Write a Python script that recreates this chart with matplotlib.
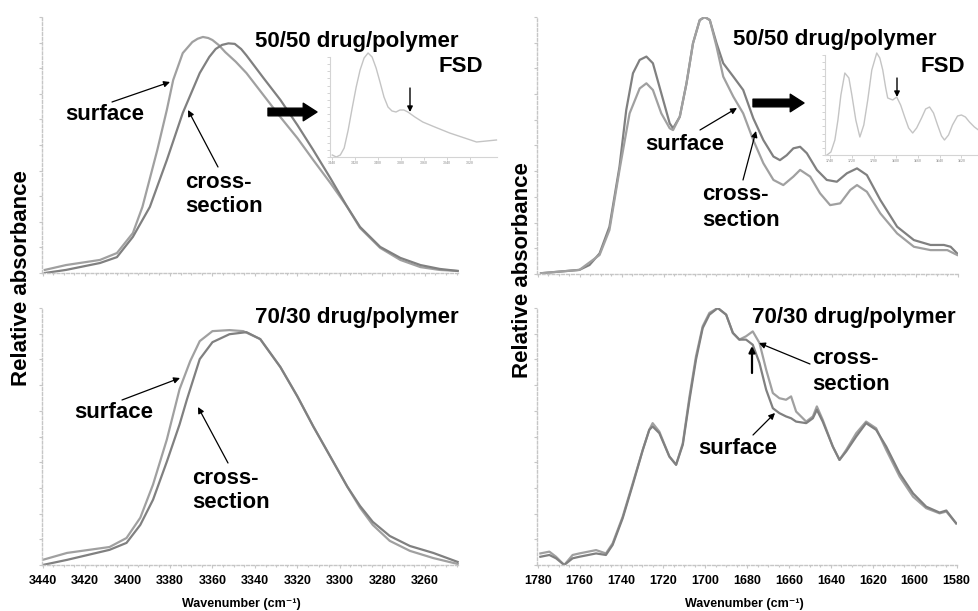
import matplotlib
matplotlib.use('Agg')
import matplotlib.pyplot as plt
import numpy as np

plt.rcParams['font.family'] = ['Liberation Sans', 'DejaVu Sans']
plt.rcParams['font.weight'] = 'bold'

# ---- data ----
# O-H / N-H stretch region, 50/50 drug/polymer
tl_surf_wn = [3439, 3429, 3413, 3405, 3397.5, 3393, 3386, 3381.5, 3378.5, 3374, 3369.5, 3367, 3364.5, 3362,
              3360, 3357, 3354, 3349, 3344, 3336, 3328, 3320, 3312.5, 3304.5, 3296.5, 3290.5, 3281,
              3271.5, 3262, 3253, 3244.5]
tl_surf_abs = [0.012, 0.031, 0.051, 0.078, 0.156, 0.258, 0.480, 0.637, 0.754, 0.859, 0.902, 0.915, 0.922, 0.918,
               0.910, 0.890, 0.863, 0.825, 0.781, 0.695, 0.609, 0.527, 0.441, 0.352, 0.258, 0.176, 0.098,
               0.051, 0.023, 0.012, 0.008]
tl_cross_wn = [3439, 3429, 3413, 3405, 3397.5, 3389.5, 3381.5, 3374, 3366, 3361.5, 3358.5, 3355.5, 3352.5,
               3349.5, 3346.5, 3344, 3336, 3328, 3320, 3312.5, 3304.5, 3296.5, 3290.5, 3281, 3271.5, 3262,
               3253, 3244.5]
tl_cross_abs = [0.0, 0.012, 0.039, 0.062, 0.141, 0.258, 0.441, 0.625, 0.781, 0.844, 0.875, 0.891, 0.897,
                0.895, 0.875, 0.850, 0.762, 0.676, 0.578, 0.480, 0.371, 0.258, 0.180, 0.102, 0.059, 0.031,
                0.016, 0.008]

# 70/30 drug/polymer
bl_surf_wn = [3440, 3428.5, 3408.5, 3400.5, 3394, 3388, 3381.5, 3375.5, 3370.5, 3366, 3360, 3352, 3345.5,
              3337.5, 3328, 3320, 3312.5, 3304.5, 3296.5, 3290.5, 3284.5, 3276.5, 3267, 3256, 3244.5]
bl_surf_abs = [0.020, 0.047, 0.070, 0.105, 0.184, 0.313, 0.488, 0.684, 0.793, 0.871, 0.910, 0.914, 0.910,
               0.879, 0.770, 0.656, 0.539, 0.422, 0.305, 0.223, 0.156, 0.094, 0.055, 0.027, 0.004]
bl_cross_wn = [3440, 3428.5, 3408.5, 3400.5, 3394, 3388, 3381.5, 3375.5, 3372, 3366, 3360, 3352, 3344,
               3337.5, 3328, 3320, 3312.5, 3304.5, 3296.5, 3290.5, 3284.5, 3276.5, 3267, 3256, 3244.5]
bl_cross_abs = [0.0, 0.020, 0.059, 0.086, 0.156, 0.254, 0.402, 0.547, 0.645, 0.801, 0.867, 0.898, 0.906,
                0.879, 0.770, 0.656, 0.539, 0.422, 0.305, 0.230, 0.168, 0.113, 0.074, 0.047, 0.012]

# carbonyl region, 50/50
tr_surf_wn = [1778.4, 1760.1, 1755.3, 1750.5, 1745.8, 1741.0, 1737.8, 1734.6, 1731.4, 1728.2,
              1725.1, 1721.1, 1717.1, 1715.5, 1712.3, 1709.1, 1706.0, 1702.8, 1700.4, 1698.0,
              1694.8, 1691.6, 1686.8, 1682.1, 1677.3, 1672.5, 1667.7, 1664.6, 1661.4, 1658.2,
              1655.0, 1651.8, 1647.0, 1642.3, 1637.5, 1632.7, 1627.9, 1623.2, 1616.8, 1608.8,
              1600.8, 1592.9, 1586.5, 1583.3, 1580.2]
tr_surf_abs = [0.003, 0.016, 0.035, 0.080, 0.184, 0.418, 0.638, 0.781, 0.833, 0.846,
               0.820, 0.703, 0.586, 0.567, 0.612, 0.742, 0.898, 0.988, 1.0, 0.988,
               0.898, 0.820, 0.768, 0.716, 0.606, 0.521, 0.457, 0.443, 0.462, 0.489,
               0.495, 0.470, 0.405, 0.366, 0.359, 0.392, 0.411, 0.385, 0.288, 0.184,
               0.132, 0.113, 0.113, 0.106, 0.080]
tr_cross_wn = [1778.4, 1760.1, 1750.5, 1745.8, 1741.0, 1736.2, 1731.4, 1728.2, 1725.1, 1721.1,
               1717.1, 1715.5, 1712.3, 1709.1, 1706.0, 1702.8, 1700.4, 1698.0, 1694.8, 1691.6,
               1686.8, 1682.1, 1677.3, 1672.5, 1667.7, 1663.0, 1658.2, 1655.0, 1650.2, 1645.5,
               1640.7, 1635.9, 1631.1, 1627.9, 1623.2, 1616.8, 1608.8, 1600.8, 1592.9, 1584.9, 1580.2]
tr_cross_abs = [0.003, 0.016, 0.074, 0.171, 0.405, 0.625, 0.722, 0.742, 0.716, 0.625,
                0.567, 0.560, 0.612, 0.742, 0.898, 0.988, 1.0, 0.988, 0.885, 0.768,
                0.690, 0.625, 0.521, 0.431, 0.366, 0.346, 0.379, 0.405, 0.379, 0.314,
                0.268, 0.275, 0.327, 0.346, 0.320, 0.236, 0.158, 0.106, 0.093, 0.093, 0.074]

# carbonyl region, 70/30
br_wn = [1778.7, 1774.4, 1771.2, 1767.3, 1763.3, 1760.1, 1752.1, 1747.4, 1744.2, 1739.4,
         1734.6, 1729.8, 1726.7, 1725.1, 1721.9, 1717.1, 1713.9, 1710.7, 1707.5, 1704.4,
         1701.2, 1698.0, 1694.0, 1690.0, 1686.8, 1683.7, 1680.5, 1677.3, 1674.1, 1670.9,
         1667.7, 1664.6, 1661.4, 1659.0, 1656.6, 1651.8, 1648.6, 1646.7, 1643.9, 1639.1,
         1635.9, 1632.7, 1627.9, 1623.2, 1618.4, 1613.6, 1607.2, 1600.8, 1594.5, 1588.1,
         1584.9, 1580.2]
br_cross_abs = [0.045, 0.052, 0.032, 0.0, 0.039, 0.045, 0.058, 0.045, 0.084, 0.188,
                0.318, 0.448, 0.526, 0.552, 0.519, 0.422, 0.390, 0.474, 0.656, 0.812,
                0.929, 0.981, 1.0, 0.974, 0.903, 0.877, 0.890, 0.909, 0.864, 0.760,
                0.669, 0.649, 0.643, 0.656, 0.597, 0.558, 0.578, 0.617, 0.565, 0.461,
                0.409, 0.448, 0.513, 0.558, 0.532, 0.448, 0.344, 0.266, 0.221, 0.201,
                0.208, 0.162]
br_surf_abs = [0.032, 0.039, 0.026, 0.0, 0.026, 0.032, 0.045, 0.039, 0.078, 0.182,
               0.312, 0.448, 0.526, 0.539, 0.513, 0.422, 0.390, 0.468, 0.643, 0.799,
               0.922, 0.974, 1.0, 0.974, 0.903, 0.877, 0.877, 0.857, 0.786, 0.682,
               0.610, 0.591, 0.578, 0.571, 0.558, 0.552, 0.571, 0.604, 0.558, 0.461,
               0.409, 0.442, 0.500, 0.552, 0.526, 0.461, 0.357, 0.279, 0.227, 0.204,
               0.212, 0.162]

# FSD insets
tl_fsd_wn = [3440, 3436.5, 3433.0, 3429.6, 3426.1, 3422.6, 3419.1, 3415.7, 3412.2, 3408.7,
             3405.2, 3401.7, 3398.3, 3394.8, 3391.3, 3387.8, 3384.3, 3380.9, 3377.4, 3373.9,
             3367.8, 3360.9, 3350.4, 3337.4, 3324.3, 3313.9, 3305.2, 3296.5]
tl_fsd = [0.02, 0.0, 0.02, 0.09, 0.27, 0.49, 0.70, 0.87, 0.99, 1.04,
          1.0, 0.89, 0.75, 0.60, 0.50, 0.46, 0.45, 0.47, 0.47, 0.45,
          0.40, 0.35, 0.30, 0.24, 0.19, 0.15, 0.16, 0.17]
tr_fsd_wn = [1742.7, 1739.1, 1735.5, 1732.7, 1730.0, 1726.4, 1722.7, 1720.0, 1716.4, 1712.7,
             1709.1, 1705.5, 1701.8, 1697.3, 1694.5, 1691.8, 1689.1, 1687.3, 1682.7, 1679.1,
             1675.5, 1671.8, 1668.2, 1664.5, 1660.9, 1656.4, 1652.7, 1649.1, 1645.5, 1641.8,
             1638.2, 1635.5, 1631.8, 1628.2, 1623.6, 1620.0, 1616.4, 1612.7, 1608.2, 1604.5]
tr_fsd = [0.0, 0.03, 0.15, 0.35, 0.60, 0.82, 0.77, 0.60, 0.35, 0.18,
          0.30, 0.55, 0.85, 1.02, 0.97, 0.85, 0.67, 0.57, 0.55, 0.58,
          0.50, 0.38, 0.27, 0.22, 0.27, 0.37, 0.46, 0.48, 0.42, 0.30,
          0.19, 0.15, 0.20, 0.30, 0.39, 0.40, 0.38, 0.33, 0.28, 0.25]

oh_ticks = [3440, 3420, 3400, 3380, 3360, 3340, 3320, 3300, 3280, 3260]
co_ticks = [1780, 1760, 1740, 1720, 1700, 1680, 1660, 1640, 1620, 1600, 1580]
tl_fsd_ticks = [3440, 3420, 3400, 3380, 3360, 3340, 3320]
tr_fsd_ticks = [1740, 1720, 1700, 1680, 1660, 1640, 1620]

W, H = 979, 611
c_surf = '#a0a0a0'
c_cross = '#808080'
axc = '#c6c6c6'


def fp(x, y):
    # pixel (top-left origin) -> figure fraction
    return (x / W, 1 - y / H)


def box(x0, y0, x1, y1):
    return [x0 / W, 1 - y1 / H, (x1 - x0) / W, (y1 - y0) / H]


def style(ax, xlim, ticks, xlab_x=None):
    ax.set_facecolor('none')
    for s in ['top', 'right']:
        ax.spines[s].set_visible(False)
    for s in ['left', 'bottom']:
        ax.spines[s].set_color(axc)
        ax.spines[s].set_linestyle((0, (2, 1.5)))
        ax.spines[s].set_linewidth(1.0)
    lo, hi = min(xlim), max(xlim)
    minor = [v for v in np.arange(ticks[-1] - 20, ticks[0] + 1, 5) if lo <= v <= hi]
    ax.set_xticks(ticks)
    ax.set_xticks(minor, minor=True)
    ax.set_yticks(np.arange(0, 1.01, 0.1))
    ax.set_yticklabels([])
    ax.tick_params(which='both', color=axc, length=2.5, width=0.8, labelcolor='k', pad=5)
    ax.tick_params(which='minor', length=1.5)
    if xlab_x is not None:
        ax.set_xticklabels([str(t) for t in ticks], fontsize=9, fontweight='bold')
        ax.set_xlabel('Wavenumber (cm⁻¹)', fontsize=9, fontweight='bold')
        ax.xaxis.set_label_coords(xlab_x, -0.128)
    else:
        ax.set_xticklabels([])
    # limits last, so the ticks don't widen them
    ax.set_xlim(*xlim)
    ax.set_ylim(0, 1)


def inset(rect, xlim, wn, vals, ticks):
    ia = fig.add_axes(rect)
    ia.set_facecolor('none')
    ia.plot(wn, vals, color='#c4c4c4', lw=1.0, clip_on=False)
    for s in ['top', 'right']:
        ia.spines[s].set_visible(False)
    for s in ['left', 'bottom']:
        ia.spines[s].set_color('#d4d4d4')
        ia.spines[s].set_linewidth(0.8)
    ia.set_xticks(ticks)
    ia.set_xticklabels([str(t) for t in ticks], fontsize=2.5, color='#aaaaaa')
    ia.set_yticks(np.linspace(0, 1, 15))
    ia.set_yticklabels([])
    ia.tick_params(color='#cccccc', length=2, width=0.6, pad=1)
    ia.set_xlim(*xlim)
    ia.set_ylim(0, 1)
    return ia


def arrow(ax, tail, head, lw=0.9, ms=9):
    ax.annotate('', xy=fp(*head), xycoords='figure fraction', xytext=fp(*tail),
                textcoords='figure fraction', annotation_clip=False,
                arrowprops=dict(arrowstyle='-|>', color='k', lw=lw, mutation_scale=ms,
                                shrinkA=0, shrinkB=0))


def big_arrow(ax, tail, head):
    ax.annotate('', xy=fp(*head), xycoords='figure fraction', xytext=fp(*tail),
                textcoords='figure fraction', annotation_clip=False,
                arrowprops=dict(arrowstyle='simple,head_length=0.9,head_width=1.15,tail_width=0.5',
                                color='k', mutation_scale=11, shrinkA=0, shrinkB=0))


def label(x, y, s, ha='left'):
    fig.text(*fp(x, y), s, fontsize=16, fontweight='bold', ha=ha, va='center')


fig = plt.figure(figsize=(W / 100, H / 100), dpi=100)

oh_lim = (3440.3, 3243.4)
co_lim = (1780.3, 1579.8)

ax1 = fig.add_axes(box(42, 17, 460, 273))
ax1.plot(tl_surf_wn, tl_surf_abs, color=c_surf, lw=1.6)
ax1.plot(tl_cross_wn, tl_cross_abs, color=c_cross, lw=1.6)
style(ax1, oh_lim, oh_ticks)

ax2 = fig.add_axes(box(537, 17, 958, 274))
ax2.plot(tr_surf_wn, tr_surf_abs, color=c_cross, lw=1.6)
ax2.plot(tr_cross_wn, tr_cross_abs, color=c_surf, lw=1.6)
style(ax2, co_lim, co_ticks)

ax3 = fig.add_axes(box(42, 308, 460, 565))
ax3.plot(bl_surf_wn, bl_surf_abs, color=c_surf, lw=1.6)
ax3.plot(bl_cross_wn, bl_cross_abs, color=c_cross, lw=1.6)
style(ax3, oh_lim, oh_ticks, xlab_x=0.476)

ax4 = fig.add_axes(box(537, 308, 957, 565))
ax4.plot(br_wn, br_cross_abs, color=c_surf, lw=1.6)
ax4.plot(br_wn, br_surf_abs, color=c_cross, lw=1.6)
style(ax4, co_lim, co_ticks, xlab_x=0.493)

# FSD insets
inset(box(330, 57, 497, 157), (3442, 3296), tl_fsd_wn, tl_fsd, tl_fsd_ticks)
inset(box(825, 55, 979, 155), (1744.5, 1604), tr_fsd_wn, tr_fsd, tr_fsd_ticks)

# y labels
fig.text(*fp(22, 278), 'Relative absorbance', fontsize=16, fontweight='bold',
         rotation=90, ha='center', va='center')
fig.text(*fp(522, 270), 'Relative absorbance', fontsize=16, fontweight='bold',
         rotation=90, ha='center', va='center')

# top-left annotations
label(255, 42, '50/50 drug/polymer')
label(483, 67, 'FSD', ha='right')
label(65, 115, 'surface')
label(185, 182, 'cross-')
label(185, 207, 'section')
arrow(ax1, (112, 102), (170, 82))
arrow(ax1, (218, 167), (188, 110))
big_arrow(ax1, (268, 112), (317, 112))
arrow(ax1, (410, 88), (410, 112), lw=1.0, ms=8)

# top-right annotations
label(733, 40, '50/50 drug/polymer')
label(965, 67, 'FSD', ha='right')
label(645, 144, 'surface')
label(702, 195, 'cross-')
label(702, 220, 'section')
arrow(ax2, (700, 130), (737, 108))
arrow(ax2, (743, 180), (756, 131))
big_arrow(ax2, (753, 103), (804, 103))
arrow(ax2, (897, 78), (897, 97), lw=1.0, ms=8)

# bottom-left annotations
label(255, 317, '70/30 drug/polymer')
label(74, 413, 'surface')
label(192, 478, 'cross-')
label(192, 503, 'section')
arrow(ax3, (122, 400), (180, 378))
arrow(ax3, (228, 463), (198, 407))

# bottom-right annotations
label(752, 317, '70/30 drug/polymer')
label(812, 358, 'cross-')
label(812, 384, 'section')
label(698, 448, 'surface')
arrow(ax4, (810, 364), (759, 343))
arrow(ax4, (753, 435), (775, 413))
arrow(ax4, (752, 373), (752, 346), lw=1.6, ms=9)

fig.savefig('out.png', dpi=100)
